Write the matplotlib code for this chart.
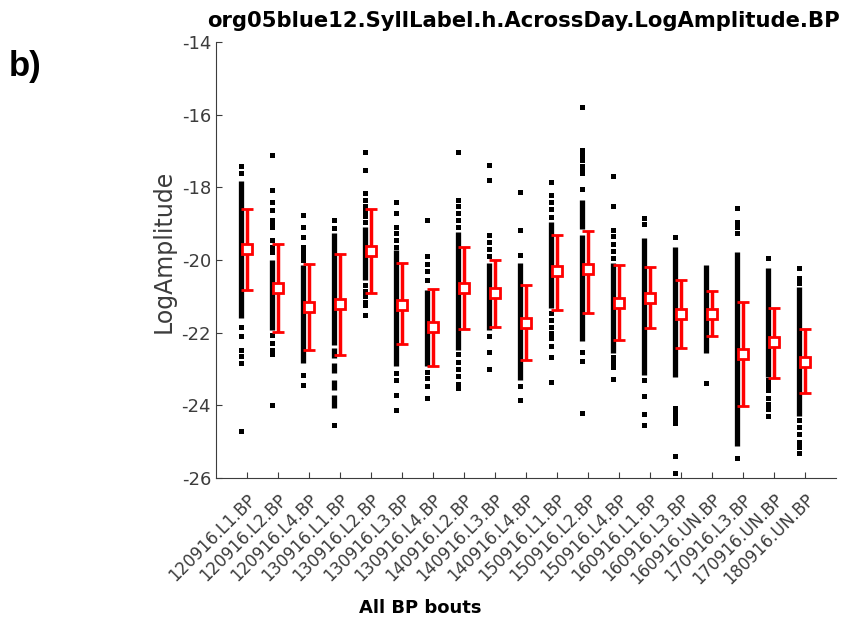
import matplotlib
matplotlib.use('Agg')
import matplotlib.pyplot as plt

plt.rcParams['axes.unicode_minus'] = False

# bout labels
labels = ['120916.L1.BP', '120916.L2.BP', '120916.L4.BP', '130916.L1.BP',
          '130916.L2.BP', '130916.L3.BP', '130916.L4.BP', '140916.L2.BP',
          '140916.L3.BP', '140916.L4.BP', '150916.L1.BP', '150916.L2.BP',
          '150916.L4.BP', '160916.L1.BP', '160916.L3.BP', '160916.UN.BP',
          '170916.L3.BP', '170916.UN.BP', '180916.UN.BP']

# mean and error bar ends (mean +/- sd)
means = [-19.7, -20.78, -21.3, -21.21, -19.75, -21.24, -21.85, -20.78, -20.92, -21.72,
         -20.3, -20.25, -21.17, -21.05, -21.49, -21.48, -22.59, -22.27, -22.8]
err_top = [-18.59, -19.57, -20.12, -19.84, -18.59, -20.09, -20.8, -19.65, -20.0, -20.68,
           -19.31, -19.2, -20.13, -20.2, -20.55, -20.84, -21.16, -21.31, -21.9]
err_bot = [-20.82, -21.97, -22.47, -22.61, -20.9, -22.31, -22.93, -21.9, -21.83, -22.75,
           -21.37, -21.45, -22.2, -21.88, -22.43, -22.09, -24.03, -23.25, -23.65]

# dense runs of syllables (top, bottom) for each bout
dense = [
    [(-17.82, -21.6)],
    [(-20.0, -21.92)],
    [(-20.13, -22.84)],
    [(-19.25, -22.34), (-22.42, -22.7), (-22.84, -23.1), (-23.3, -23.57), (-23.71, -24.07)],
    [(-19.08, -20.55)],
    [(-19.72, -22.93)],
    [(-20.82, -22.93)],
    [(-19.22, -22.47)],
    [(-20.09, -21.92)],
    [(-20.09, -23.3)],
    [(-18.94, -21.33)],
    [(-18.35, -19.15), (-19.3, -22.24)],
    [(-20.09, -22.56)],
    [(-19.4, -23.16)],
    [(-19.63, -23.21)],
    [(-20.13, -22.56)],
    [(-19.77, -25.13)],
    [(-20.23, -23.21)],
    [(-20.73, -24.3)],
]

# single syllables outside the dense runs
sparse = [
    [-17.41, -17.61, -21.83, -22.1, -22.47, -22.65, -22.84, -24.7],
    [-17.11, -18.07, -18.39, -18.62, -18.9, -19.0, -19.1, -19.45, -19.63, -19.7, -19.77,
     -22.06, -22.29, -22.47, -22.58, -24.0],
    [-18.76, -19.08, -19.36, -19.63, -19.75, -19.88, -20.0, -23.16, -23.44],
    [-18.9, -19.12, -24.54],
    [-17.02, -17.52, -18.16, -18.35, -18.5, -18.65, -18.8, -18.95, -20.7, -20.85, -21.0,
     -21.15, -21.24, -21.51],
    [-18.39, -18.71, -19.08, -19.25, -19.45, -19.63, -23.1, -23.3, -23.71, -24.12],
    [-18.9, -19.9, -20.1, -20.3, -20.55, -23.07, -23.25, -23.48, -23.8],
    [-17.02, -18.35, -18.5, -18.7, -18.9, -19.1, -22.6, -22.8, -23.0, -23.2, -23.4, -23.53],
    [-17.38, -17.8, -19.31, -19.5, -19.7, -19.9, -22.1, -22.52, -23.0],
    [-18.12, -19.17, -19.86, -23.48, -23.85],
    [-17.84, -18.21, -18.4, -18.6, -18.81, -21.47, -21.65, -21.85, -22.0, -22.15, -22.38,
     -22.66, -23.37],
    [-15.8, -16.97, -17.1, -17.25, -17.4, -17.5, -17.61, -18.05, -22.52, -22.79, -24.22],
    [-17.69, -18.51, -19.17, -19.35, -19.55, -19.75, -19.95, -22.66, -22.8, -22.95, -23.28],
    [-18.85, -19.0, -23.3, -23.75, -24.25, -24.55],
    [-19.36, -24.07, -24.2, -24.35, -24.48, -25.39, -25.85],
    [-23.39],
    [-18.58, -18.94, -19.1, -19.26, -25.45],
    [-19.95, -23.3, -23.45, -23.57, -23.8, -23.95, -24.1, -24.3],
    [-20.23, -20.5, -20.64, -24.4, -24.6, -24.8, -25.0, -25.15, -25.3],
]

gray = '#3c3c3c'
fig = plt.figure(figsize=(8.52, 6.19), dpi=100)
ax = fig.add_axes([0.2535, 0.2278, 0.7275, 0.7042])

pos = list(range(1, len(labels) + 1))
shift = 0.2
for i, p in enumerate(pos):
    for top, bot in dense[i]:
        ax.vlines(p - shift, bot, top, colors='k', linewidth=3.8, capstyle='butt')
    ax.plot([p - shift] * len(sparse[i]), sparse[i], 's', color='k', markersize=3.6,
            markeredgewidth=0)

lower = [m - b for m, b in zip(means, err_bot)]
upper = [t - m for m, t in zip(means, err_top)]
ax.errorbar(pos, means, yerr=[lower, upper], fmt='s', color='red', ecolor='red',
            elinewidth=2.5, capsize=4, capthick=2.5, markersize=7,
            markerfacecolor='white', markeredgecolor='red', markeredgewidth=2, zorder=5)

ax.set_xlim(0, 20)
ax.set_ylim(-26, -14)
ax.set_yticks([-26, -24, -22, -20, -18, -16, -14])
ax.set_xticks(pos)
ax.set_xticklabels(labels, rotation=45, ha='right', va='top', rotation_mode='anchor',
                   fontsize=12, color=gray)
ax.tick_params(axis='y', labelsize=13, labelcolor=gray)
ax.tick_params(direction='in', length=4, width=0.8, color=gray)
ax.tick_params(axis='x', pad=9)
ax.spines['top'].set_visible(False)
ax.spines['right'].set_visible(False)
ax.spines['left'].set_color(gray)
ax.spines['bottom'].set_color(gray)

ax.set_ylabel('LogAmplitude', fontsize=17, color=gray)
ax.yaxis.set_label_coords(-0.065, 0.52)
fig.text(0.614, 0.966, 'org05blue12.SyllLabel.h.AcrossDay.LogAmplitude.BP',
         ha='center', va='center', fontsize=15.2, fontweight='bold', color='k')
fig.text(0.493, 0.017, 'All BP bouts', ha='center', va='center', fontsize=13,
         fontweight='bold', color='k')
fig.text(0.010, 0.893, 'b)', ha='left', va='center', fontsize=25, fontweight='bold',
         family='Liberation Sans', color='k')

fig.savefig('out.png', dpi=100)
